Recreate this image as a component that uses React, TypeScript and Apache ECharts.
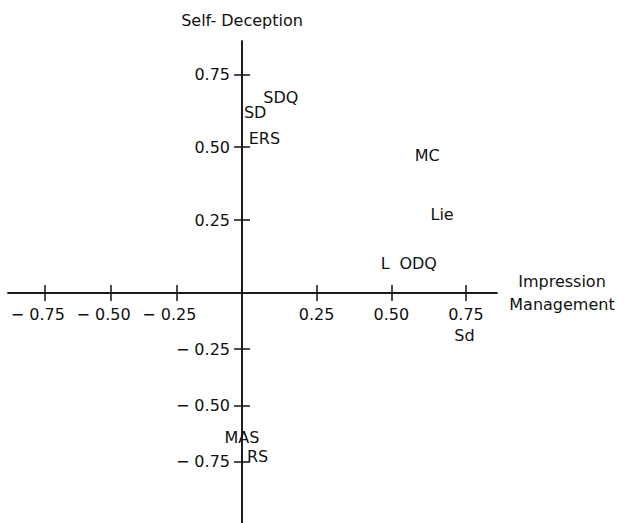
import React, { useEffect, useRef } from "react";
import * as echarts from "echarts";

// Tick values on both axes
const xTickValues = [-0.75, -0.5, -0.25, 0.25, 0.5, 0.75];
const yTickValues = [-0.75, -0.5, -0.25, 0.25, 0.5, 0.75];

// Scale labels
const pointLabels = ["SDQ", "SD", "ERS", "MC", "Lie", "L", "ODQ", "Sd", "MAS", "RS"];
// Impression Management loadings (x)
const impression = [0.13, 0.044, 0.075, 0.62, 0.67, 0.48, 0.59, 0.745, 0.0, 0.052];
// Self-Deception loadings (y)
const selfDeception = [0.67, 0.62, 0.53, 0.47, 0.27, 0.1, 0.1, -0.19, -0.645, -0.73];

const xAxisName = "Impression\nManagement";
const yAxisName = "Self- Deception";

const FONT = "DejaVu Sans";
const INK = "#111";

const fmt = (v: number) => (v < 0 ? "\u2212 " + Math.abs(v).toFixed(2) : v.toFixed(2));

export default function App() {
  const ref = useRef<HTMLDivElement>(null);
  useEffect(() => {
    if (!ref.current) return;
    const chart = echarts.init(ref.current, null, { renderer: "svg" });

    const negX = xTickValues.filter((v) => v < 0);
    const posX = xTickValues.filter((v) => v > 0);
    const negY = yTickValues.filter((v) => v < 0);
    const posY = yTickValues.filter((v) => v > 0);

    const line = { show: true, onZero: false, lineStyle: { color: INK, width: 1.5 } };
    const tick = (vals: number[]) => ({
      show: true,
      inside: false,
      length: 8,
      customValues: vals,
      lineStyle: { color: INK, width: 1.5 },
    });
    const lbl = (vals: number[], show: boolean, margin: number, extra: any = {}) => ({
      show,
      customValues: vals,
      formatter: (v: number) => fmt(v),
      fontFamily: FONT,
      fontSize: 16,
      color: INK,
      margin,
      ...extra,
    });

    const top: any[] = [];
    const bottom: any[] = [];
    pointLabels.forEach((n, i) => {
      const d = [impression[i], selfDeception[i], n];
      if (selfDeception[i] >= 0) top.push(d);
      else bottom.push(d);
    });

    const seriesLabel = {
      show: true,
      position: "inside",
      formatter: (p: any) => p.value[2],
      fontFamily: FONT,
      fontSize: 16,
      color: INK,
      opacity: 1,
      textBorderWidth: 0,
      textBorderColor: "transparent",
    };

    const xMinNeg = -0.89;
    const xMaxPos = 0.854;
    const yMaxPos = 0.864;
    const yMinNeg = -1.024;

    const scatterCommon = {
      type: "scatter",
      symbolSize: 0,
      clip: false,
      itemStyle: { opacity: 1, color: INK },
      label: seriesLabel,
    };

    chart.setOption({
      animation: false,
      backgroundColor: "#fff",
      grid: [
        { left: 8, right: 381, top: 41, bottom: 230 },
        { left: 242, right: 126, top: 41, bottom: 230 },
        { left: 8, right: 381, top: 293, bottom: 0 },
        { left: 242, right: 126, top: 293, bottom: 0 },
      ],
      xAxis: [
        { type: "value", gridIndex: 0, min: xMinNeg, max: 0, position: "bottom", axisLine: line, axisTick: tick(negX), axisLabel: lbl(negX, true, 13, { padding: [0, 14, 0, 0] }), splitLine: { show: false } },
        {
          type: "value", gridIndex: 1, min: 0, max: xMaxPos, position: "bottom", axisLine: line, axisTick: tick(posX), axisLabel: lbl(posX, true, 13), splitLine: { show: false },
          name: xAxisName, nameLocation: "end", nameGap: 65,
          nameTextStyle: { fontFamily: FONT, fontSize: 16, color: INK, align: "center", verticalAlign: "middle", lineHeight: 23, padding: [0, 0, 10, 0] },
        },
        { type: "value", gridIndex: 2, min: xMinNeg, max: 0, position: "top", axisLine: line, axisTick: tick(negX), axisLabel: { show: false }, splitLine: { show: false } },
        { type: "value", gridIndex: 3, min: 0, max: xMaxPos, position: "top", axisLine: line, axisTick: tick(posX), axisLabel: { show: false }, splitLine: { show: false } },
      ],
      yAxis: [
        { type: "value", gridIndex: 0, min: 0, max: yMaxPos, position: "right", axisLine: line, axisTick: tick(posY), axisLabel: { show: false }, splitLine: { show: false } },
        {
          type: "value", gridIndex: 1, min: 0, max: yMaxPos, position: "left", axisLine: line, axisTick: tick(posY), axisLabel: lbl(posY, true, 12), splitLine: { show: false },
          name: yAxisName, nameLocation: "end", nameGap: 13,
          nameTextStyle: { fontFamily: FONT, fontSize: 16, color: INK, align: "center" },
        },
        { type: "value", gridIndex: 2, min: yMinNeg, max: 0, position: "right", axisLine: line, axisTick: tick(negY), axisLabel: { show: false }, splitLine: { show: false } },
        { type: "value", gridIndex: 3, min: yMinNeg, max: 0, position: "left", axisLine: line, axisTick: tick(negY), axisLabel: lbl(negY, true, 12), splitLine: { show: false } },
      ],
      series: [
        { ...scatterCommon, xAxisIndex: 1, yAxisIndex: 1, data: top },
        { ...scatterCommon, xAxisIndex: 3, yAxisIndex: 3, data: bottom },
      ],
    });
    return () => chart.dispose();
  }, []);
  return (
    <div
      ref={ref}
      style={{ position: "fixed", left: 0, top: 0, width: 623, height: 523, background: "#fff" }}
    />
  );
}
